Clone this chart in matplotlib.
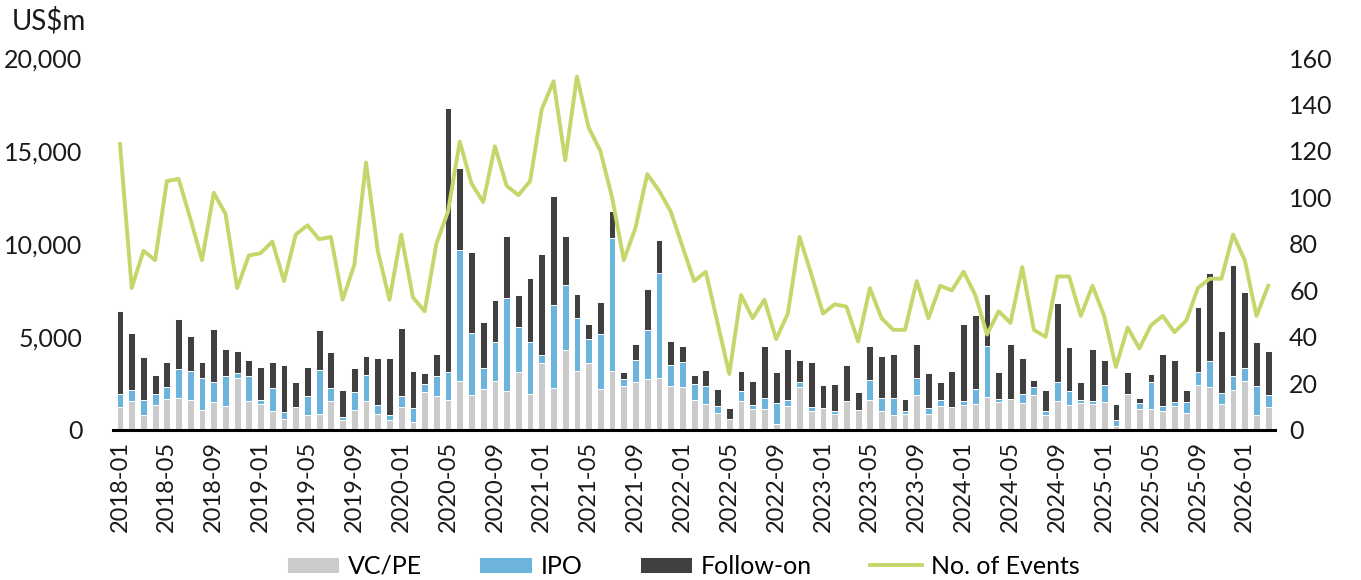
import matplotlib
matplotlib.use("Agg")
import matplotlib.pyplot as plt
import numpy as np
import pandas as pd

plt.rcParams['font.family'] = ['Lato', 'DejaVu Sans']

months = pd.period_range("2018-01", "2026-03", freq="M").strftime("%Y-%m").tolist()

vc_pe = [1200, 1570, 810, 1310, 1660, 1710, 1620, 1080, 1490, 1260, 2780, 1530,
         1400, 990, 580, 1200, 810, 860, 1530, 540, 1080, 1570, 850, 500,
         1210, 400, 2020, 1840, 1620, 2610, 1890, 2200, 2610, 2110, 3100, 1940,
         3600, 2250, 4280, 3150, 3600, 2210, 3150, 2340, 2560, 2740, 2790, 2340,
         2300, 1620, 1390, 900, 600, 1530, 1120, 1120, 300, 1260, 2290, 990,
         1170, 850, 1540, 1040, 1620, 990, 810, 850, 1890, 850, 1260, 1210,
         1310, 1390, 1750, 1490, 1630, 1440, 1890, 810, 1570, 1310, 1440, 1400,
         1490, 200, 1900, 1120, 1120, 1030, 1260, 900, 2430, 2290, 1390, 2120,
         2610, 770, 1220]

ipo = [740, 590, 810, 610, 650, 1570, 1530, 1710, 1060, 1620, 300, 1390,
       220, 1260, 370, 0, 1030, 2330, 720, 130, 950, 1400, 470, 270,
       590, 770, 460, 1040, 1480, 7070, 3330, 1130, 2120, 5000, 2430, 2790,
       400, 4460, 3510, 2840, 1260, 2920, 7150, 400, 1220, 2610, 5620, 1170,
       1350, 860, 950, 400, 0, 540, 190, 590, 1150, 340, 270, 220,
       0, 180, 0, 0, 1080, 720, 900, 140, 900, 320, 360, 0,
       220, 830, 2750, 160, 0, 500, 410, 180, 990, 800, 160, 160,
       940, 350, 0, 320, 1440, 270, 220, 590, 680, 1400, 590, 800,
       720, 1600, 670]

follow_on = [4430, 3060, 2290, 1050, 1330, 2660, 1890, 860, 2880, 1440, 1150, 830,
             1750, 1400, 2560, 1350, 1530, 2160, 1930, 1460, 1300, 990, 2560, 3100,
             3650, 1980, 580, 1210, 14220, 4410, 4360, 2480, 2230, 3310, 1730, 3420,
             5440, 5850, 2630, 1300, 810, 1760, 1490, 360, 860, 2250, 1800, 1260,
             850, 450, 900, 900, 570, 1080, 1300, 2790, 1670, 2750, 1170, 2430,
             1230, 1450, 1950, 980, 1800, 2250, 2380, 670, 1840, 1890, 950, 1950,
             4180, 3940, 2790, 1440, 2960, 1930, 400, 1130, 4250, 2340, 960, 2790,
             1310, 810, 1200, 270, 450, 2790, 2250, 670, 3490, 4720, 3360, 5940,
             4090, 2340, 2340]

num_events = [123, 61, 77, 73, 107, 108, 91, 73, 102, 93, 61, 75,
              76, 81, 64, 84, 88, 82, 83, 56, 71, 115, 77, 56,
              84, 57, 51, 80, 94, 124, 106, 98, 122, 105, 101, 107,
              138, 150, 116, 152, 130, 120, 100, 73, 87, 110, 103, 94,
              79, 64, 68, 46, 24, 58, 48, 56, 39, 50, 83, 67,
              50, 54, 53, 38, 61, 48, 43, 43, 64, 48, 62, 60,
              68, 58, 41, 51, 46, 70, 43, 40, 66, 66, 49, 62,
              49, 27, 44, 35, 45, 49, 42, 47, 61, 65, 65, 84,
              73, 49, 62]

col_vc = "#cbcbcb"
col_ipo = "#6cb4dc"
col_fo = "#404040"
col_line = "#c5d76b"

x = np.arange(len(months))
vc = np.array(vc_pe)
ip = np.array(ipo)
fo = np.array(follow_on)

fig = plt.figure(figsize=(13.61, 5.80), dpi=100)
ax = fig.add_axes([0.083, 0.259, 0.854, 0.641])

bw = 0.58
ax.bar(x, vc, bw, color=col_vc, edgecolor="white", linewidth=0.7, label="VC/PE", zorder=2)
ax.bar(x, ip, bw, bottom=vc, color=col_ipo, edgecolor="white", linewidth=0.7, label="IPO", zorder=2)
ax.bar(x, fo, bw, bottom=vc + ip, color=col_fo, edgecolor="white", linewidth=0.7, label="Follow-on", zorder=2)

ax.set_ylim(0, 20000)
ax.set_xlim(-0.6, len(months) - 0.4)
ax.set_yticks([0, 5000, 10000, 15000, 20000])
ax.set_yticklabels([f"{v:,}" for v in [0, 5000, 10000, 15000, 20000]])
ax.set_xticks(x[::4])
ax.set_xticklabels(months[::4], rotation=90)
ax.tick_params(axis="both", length=0, colors="#1a1a1a")
ax.tick_params(axis="y", pad=22, labelsize=18)
ax.tick_params(axis="x", pad=8, labelsize=17)
for s in ["top", "right", "left"]:
    ax.spines[s].set_visible(False)
ax.spines["bottom"].set_linewidth(2.2)
ax.spines["bottom"].set_color("black")
ax.spines["bottom"].set_zorder(5)

ax2 = ax.twinx()
ax2.plot(x, num_events, color=col_line, linewidth=2.8, label="No. of Events", zorder=3)
ax2.set_ylim(0, 160)
ax2.set_yticks(range(0, 161, 20))
ax2.tick_params(axis="y", length=0, labelsize=18, pad=10, colors="#1a1a1a")
for s in ["top", "right", "left", "bottom"]:
    ax2.spines[s].set_visible(False)

fig.text(0.009, 0.988, "US$m", fontsize=20, va="top", ha="left", color="#1a1a1a")

h1, l1 = ax.get_legend_handles_labels()
h2, l2 = ax2.get_legend_handles_labels()
fig.legend(h1 + h2, l1 + l2, loc="lower center", bbox_to_anchor=(0.502, -0.035),
           ncol=4, frameon=False, fontsize=18, handlelength=2.1,
           handleheight=0.6, handletextpad=0.35, columnspacing=2.3)

fig.savefig("out.png", dpi=100)
